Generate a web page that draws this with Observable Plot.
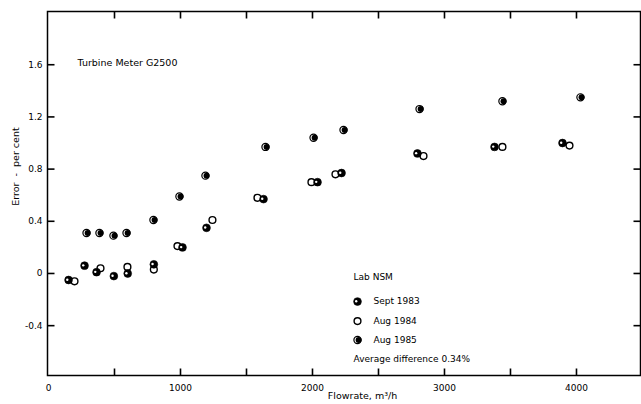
<!DOCTYPE html>
<html><head><meta charset="utf-8">
<script src="https://cdn.jsdelivr.net/npm/d3@7"></script>
<script src="https://cdn.jsdelivr.net/npm/@observablehq/plot@0.6"></script>
<style>body{margin:0;background:#fff;}</style>
</head><body><div id="chart"></div>
<script>
// Data (flowrate m3/h, error %)
const sept1983Flow = [152, 273, 364, 495, 600, 798, 1015, 1197, 1629, 2038, 2220, 2795, 3379, 3894];
const sept1983Err  = [-0.05, 0.06, 0.01, -0.02, 0.00, 0.07, 0.20, 0.35, 0.57, 0.70, 0.77, 0.92, 0.97, 1.00];
const aug1984Flow  = [197, 394, 598, 798, 977, 1242, 1583, 1992, 2174, 2841, 3439, 3947];
const aug1984Err   = [-0.06, 0.04, 0.05, 0.03, 0.21, 0.41, 0.58, 0.70, 0.76, 0.90, 0.97, 0.98];
const aug1985Flow  = [288, 386, 492, 591, 795, 992, 1189, 1644, 2008, 2235, 2811, 3439, 4030];
const aug1985Err   = [0.31, 0.31, 0.29, 0.31, 0.41, 0.59, 0.75, 0.97, 1.04, 1.10, 1.26, 1.32, 1.35];

const seriesNames = ["Sept 1983", "Aug 1984", "Aug 1985"];
const xTicks = [0, 1000, 2000, 3000, 4000];
const xTickLabels = ["0", "1000", "2000", "3000", "4000"];
const xMinorTicks = [500, 1000, 1500, 2000, 2500, 3000, 3500, 4000];
const yTicks = [-0.4, 0, 0.4, 0.8, 1.2, 1.6];
const yTickLabels = ["-0.4", "0", "0.4", "0.8", "1.2", "1.6"];

const titleText = "Turbine Meter G2500";
const xLabel = "Flowrate, m\u00b3/h";
const yLabel = "Error  -  per cent";
const legendTitle = "Lab NSM";
const noteText = "Average difference 0.34%";

const toRows = (fx, ey) => fx.map((f, i) => ({flow: f, err: ey[i]}));
const s83 = toRows(sept1983Flow, sept1983Err);
const s84 = toRows(aug1984Flow, aug1984Err);
const s85 = toRows(aug1985Flow, aug1985Err);

// legend anchors (data units)
const legX = 2341;
const legRows = [
  {flow: legX, err: -0.215, name: seriesNames[0], key: 0},
  {flow: legX, err: -0.365, name: seriesNames[1], key: 1},
  {flow: legX, err: -0.51, name: seriesNames[2], key: 2}
];

const W = 641, H = 404, mL = 47, mR = 1, mT = 11, mB = 29;
const innerW = W - mL - mR, innerH = H - mT - mB;
const xDom = [-7.6, 4485], yDom = [-0.782, 2.008];
// tick length in data units (7 px)
const tyLen = 7 * (yDom[1] - yDom[0]) / innerH;
const txLen = 7 * (xDom[1] - xDom[0]) / innerW;

const R = 3.9;
function sym83(data, o = {}) {
  return [
    Plot.dot(data, {x: "flow", y: "err", r: R, fill: "black", stroke: "black", strokeWidth: 0.6, ...o}),
    Plot.dot(data, {x: "flow", y: "err", r: 1.2, fill: "white", dx: -1.3, dy: -0.3, ...o})
  ];
}
function sym84(data, o = {}) {
  return [Plot.dot(data, {x: "flow", y: "err", r: R - 0.5, fill: "white", stroke: "black", strokeWidth: 1.4, ...o})];
}
function sym85(data, o = {}) {
  return [
    Plot.dot(data, {x: "flow", y: "err", r: R - 0.3, fill: "white", stroke: "black", strokeWidth: 1.2, ...o}),
    Plot.dot(data, {x: "flow", y: "err", r: 3.0, fill: "black", dx: 1.1, ...o})
  ];
}

const tickStyle = {stroke: "black", strokeWidth: 1.6};

const chart = Plot.plot({
  width: W,
  height: H,
  marginLeft: mL,
  marginRight: mR,
  marginTop: mT,
  marginBottom: mB,
  x: {domain: xDom},
  y: {domain: yDom},
  style: {fontFamily: "'DejaVu Sans', sans-serif", fontSize: "9px", background: "white", color: "black"},
  marks: [
    Plot.frame({stroke: "black", strokeWidth: 1.5}),
    // inward ticks
    Plot.link(xMinorTicks, {x1: d => d, x2: d => d, y1: () => yDom[0], y2: () => yDom[0] + tyLen, ...tickStyle}),
    Plot.link(xMinorTicks, {x1: d => d, x2: d => d, y1: () => yDom[1] - tyLen, y2: () => yDom[1], ...tickStyle}),
    Plot.link(yTicks, {y1: d => d, y2: d => d, x1: () => xDom[0], x2: () => xDom[0] + txLen, ...tickStyle}),
    Plot.link(yTicks, {y1: d => d, y2: d => d, x1: () => xDom[1] - txLen, x2: () => xDom[1], ...tickStyle}),
    // tick labels
    Plot.axisX(xTicks, {anchor: "bottom", tickSize: 0, tickPadding: 9, label: null,
      tickFormat: d => xTickLabels[xTicks.indexOf(d)]}),
    Plot.axisY(yTicks, {anchor: "left", tickSize: 0, tickPadding: 5, label: null,
      tickFormat: d => yTickLabels[yTicks.indexOf(d)]}),
    // axis titles
    Plot.text([xLabel], {text: d => d, x: 2379, frameAnchor: "bottom", dy: 23, fontSize: 9.5}),
    Plot.text([yLabel], {text: d => d, y: 0.52, frameAnchor: "left", dx: -32, rotate: -90, fontSize: 9.5, fill: "black"}),
    // title
    Plot.text([titleText], {text: d => d, x: 220, y: 1.617, textAnchor: "start", fontSize: 9.5}),
    // data
    ...sym84(s84),
    ...sym83(s83),
    ...sym85(s85),
    // legend
    Plot.text([legendTitle], {text: d => d, x: legX - 30, y: -0.03, textAnchor: "start"}),
    ...sym83(legRows.filter(d => d.key === 0)),
    ...sym84(legRows.filter(d => d.key === 1)),
    ...sym85(legRows.filter(d => d.key === 2)),
    Plot.text(legRows, {x: "flow", y: "err", text: "name", dx: 16, textAnchor: "start"}),
    Plot.text([noteText], {text: d => d, x: legX - 30, y: -0.66, textAnchor: "start"})
  ]
});
document.getElementById("chart").append(chart);
</script>
</body></html>
